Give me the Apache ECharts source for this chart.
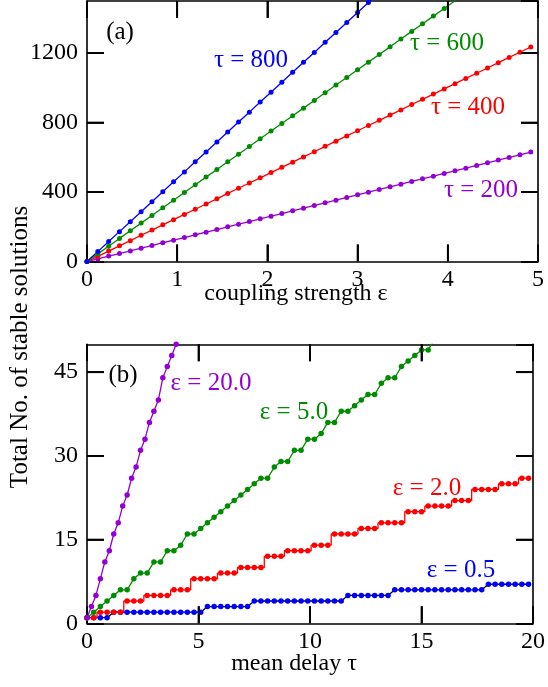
<!DOCTYPE html>
<html><head><meta charset="utf-8">
<script src="https://cdn.jsdelivr.net/npm/echarts@6/dist/echarts.min.js"></script>
<style>html,body{margin:0;padding:0;background:#fff}#c{width:548px;height:687px}</style>
</head><body><div id="c"></div>
<script>
// Panel (a): coupling strength epsilon vs number of stable solutions
const epsA = [0,0.12,0.24,0.36,0.48,0.6,0.72,0.84,0.96,1.08,1.2,1.32,1.44,1.56,1.68,1.8,1.92,2.04,2.16,2.28,2.4,2.52,2.64,2.76,2.88,3,3.12,3.24,3.36,3.48,3.6,3.72,3.84,3.96,4.08,4.2,4.32,4.44,4.56,4.68,4.8,4.92];
const tau200 = [0,15,31,46,61,77,92,108,123,138,154,169,184,200,215,230,246,261,276,292,307,323,338,353,369,384,399,415,430,445,461,476,491,507,522,537,553,568,584,599,614,630];
const tau400 = [0,30,60,90,120,151,181,211,241,271,301,331,361,392,422,452,482,512,542,572,602,632,663,693,723,753,783,813,843,873,904,934,964,994,1024,1054,1084,1114,1145,1175,1205,1235];
const tau600 = [0,44,88,133,177,221,265,309,353,397,442,486,530,574,618,662,707,751,795,839,883,927,972,1016,1060,1104,1148,1192,1236,1281,1325,1369,1413,1457,1501];
const tau800 = [0,57,115,172,229,287,344,402,459,516,574,631,688,746,803,860,918,975,1032,1090,1147,1204,1262,1319,1376,1434,1491,1548];
const ticksAx = [1,2,3,4];
const ticksAy = [400,800,1200];

// Panel (b): mean delay tau vs number of stable solutions
const tauB = [0,0.3,0.6,0.9,1.2,1.5,1.8,2.1,2.4,2.7,3,3.3,3.6,3.9,4.2,4.5,4.8,5.1,5.4,5.7,6,6.3,6.6,6.9,7.2,7.5,7.8,8.1,8.4,8.7,9,9.3,9.6,9.9,10.2,10.5,10.8,11.1,11.4,11.7,12,12.3,12.6,12.9,13.2,13.5,13.8,14.1,14.4,14.7,15,15.3,15.6,15.9,16.2,16.5,16.8,17.1,17.4,17.7,18,18.3,18.6,18.9,19.2,19.5,19.8];
const tauP = [0,0.2,0.4,0.6,0.8,1,1.2,1.4,1.6,1.8,2,2.2,2.4,2.6,2.8,3,3.2,3.4,3.6,3.8,4];
const eps20 = [1,3,5,8,11,13,16,18,21,23,26,28,31,33,36,38,40,44,46,48,50];
const eps5 = [1,2,3,4,5,6,6,8,9,9,11,11,13,13,14,16,16,17,18,19,20,21,22,23,24,25,26,26,28,29,29,31,31,33,33,34,36,36,38,38,39,40,41,41,43,44,44,46,47,48,49,49,51];
const eps2 = [1,1,2,2,2,2,4,4,4,5,5,5,5,6,6,6,8,8,8,8,9,9,9,10,10,10,10,12,12,12,13,13,13,13,14,14,14,16,16,16,16,17,17,17,18,18,18,18,20,20,20,21,21,21,21,22,22,22,24,24,24,24,25,25,25,26,26];
const eps05 = [1,1,1,1,2,2,2,2,2,2,2,2,2,2,2,2,2,2,3,3,3,3,3,3,3,4,4,4,4,4,4,4,4,4,4,4,4,4,4,5,5,5,5,5,5,5,6,6,6,6,6,6,6,6,6,6,6,6,6,6,7,7,7,7,7,7,7];
const ticksBx = [5,10,15];
const ticksBy = [15,30,45];

const BLUE='#0000ff', RED='#ff0000', GREEN='#008c00', PURPLE='#9400d3';
const FONT='"Liberation Serif", "DejaVu Serif", serif';
const zip = (xs, ys) => ys.map((y, i) => [xs[i], y]);
const TICKLEN = 17;

const chart = echarts.init(document.getElementById('c'), null, {renderer:'canvas'});
const G = [{left:87, width:451, top:1, height:260.5}, {left:87, width:451, top:344.3, height:279}];

function xAx(gi, min, max, step, pos, lab){
  return {gridIndex:gi, type:'value', min, max, interval:step, position:pos,
    axisLine:{show:true, onZero:false, lineStyle:{color:'#000', width:1.6}},
    axisTick:{show:true, inside:true, length:TICKLEN, lineStyle:{color:'#000', width:1.8}},
    axisLabel:{show:lab, color:'#000', fontFamily:FONT, fontSize:24, margin:6, showMaxLabel:true, formatter:v=>String(v)},
    splitLine:{show:false}};
}
function yAx(gi, min, max, step, pos, lab){
  return {gridIndex:gi, type:'value', min, max, interval:step, position:pos,
    axisLine:{show:true, onZero:false, lineStyle:{color:'#000', width:1.6}},
    axisTick:{show:true, inside:true, length:TICKLEN, lineStyle:{color:'#000', width:1.8}},
    axisLabel:{show:lab, color:'#000', fontFamily:FONT, fontSize:24, margin:9, showMaxLabel:false, formatter:v=>String(v)},
    splitLine:{show:false}};
}
function ser(xi, data, color, lineColor, size, step){
  return {type:'line', xAxisIndex:xi, yAxisIndex:xi, data, clip:true, step: step||false,
    symbol:'circle', symbolSize:size, showSymbol:true,
    itemStyle:{color}, lineStyle:{color:lineColor||color, width:1.3}, emphasis:{disabled:true}};
}
function txt(x, y, s, color, size){
  return {type:'text', x, y, style:{text:s, fill:color, font:size+'px '+FONT, align:'center', verticalAlign:'middle'}};
}
const texts = [
  txt(120, 32, '(a)', '#000', 25),
  txt(251, 60, 'τ = 800', BLUE, 25),
  txt(447, 43, 'τ = 600', GREEN, 25),
  txt(468, 107, 'τ = 400', RED, 25),
  txt(481, 190, 'τ = 200', PURPLE, 25),
  txt(123, 375, '(b)', '#000', 25),
  txt(211, 383, 'ε = 20.0', PURPLE, 25),
  txt(294, 412, 'ε = 5.0', GREEN, 25),
  txt(427, 488, 'ε = 2.0', RED, 25),
  txt(461, 570, 'ε = 0.5', BLUE, 25),
  txt(296, 294, 'coupling strength ε', '#000', 24),
  txt(294, 664, 'mean delay τ', '#000', 24),
  {type:'text', x:20, y:347, rotation:Math.PI/2, style:{text:'Total No. of stable solutions', fill:'#000', font:'25px '+FONT, align:'center', verticalAlign:'middle'}}
];

chart.setOption({
  animation:false,
  grid:G.map(g=>Object.assign({containLabel:false}, g)),
  xAxis:[xAx(0,0,5,1,'bottom',true), xAx(0,0,5,1,'top',false), xAx(1,0,20,5,'bottom',true), xAx(1,0,20,5,'top',false)],
  yAxis:[yAx(0,0,1500,400,'left',true), yAx(0,0,1500,400,'right',false), yAx(1,0,50,15,'left',true), yAx(1,0,50,15,'right',false)],
  series:[
    ser(0, zip(epsA, tau200), PURPLE, null, 5),
    ser(0, zip(epsA, tau400), RED, null, 5),
    ser(0, zip(epsA, tau600), GREEN, null, 5),
    ser(0, zip(epsA, tau800), BLUE, null, 5),
    ser(2, zip(tauB, eps05), BLUE, '#000', 5.5),
    ser(2, zip(tauB, eps2), RED, null, 5.5, 'middle'),
    ser(2, zip(tauB, eps5), GREEN, null, 5.5),
    ser(2, zip(tauP, eps20), PURPLE, null, 5.5)
  ],
  graphic: texts
});

// inside ticks on all four sides as small filled bars, placed via the axis scales
const tickEls = [];
function addTicks(gi, xt, yt, xmin, xmax, ymin, ymax){
  const f = {fill:'#000'};
  xt.forEach(v=>{
    const a = chart.convertToPixel({gridIndex:gi}, [v, ymin]);
    const b = chart.convertToPixel({gridIndex:gi}, [v, ymax]);
    tickEls.push({type:'rect', z:100, shape:{x:a[0]-0.9, y:a[1]-TICKLEN, width:1.8, height:TICKLEN}, style:f});
    tickEls.push({type:'rect', z:100, shape:{x:b[0]-0.9, y:b[1], width:1.8, height:TICKLEN}, style:f});
  });
  yt.forEach(v=>{
    const a = chart.convertToPixel({gridIndex:gi}, [xmin, v]);
    const b = chart.convertToPixel({gridIndex:gi}, [xmax, v]);
    tickEls.push({type:'rect', z:100, shape:{x:a[0], y:a[1]-0.9, width:TICKLEN, height:1.8}, style:f});
    tickEls.push({type:'rect', z:100, shape:{x:b[0]-TICKLEN, y:b[1]-0.9, width:TICKLEN, height:1.8}, style:f});
  });
}
addTicks(0, ticksAx, ticksAy, 0, 5, 0, 1500);
addTicks(1, ticksBx, ticksBy, 0, 20, 0, 50);
chart.setOption({graphic: texts.concat(tickEls)}, {replaceMerge:['graphic']});
</script></body></html>
